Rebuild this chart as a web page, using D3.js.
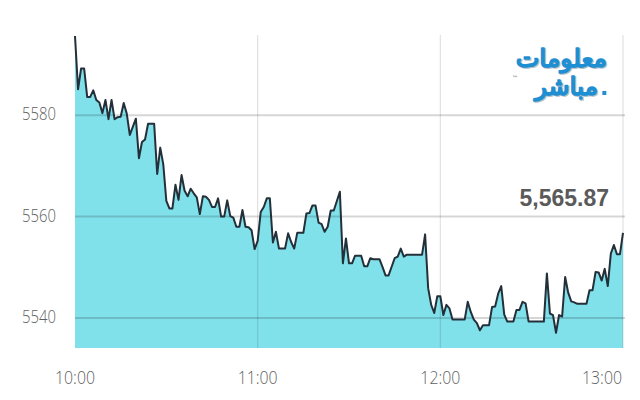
<!DOCTYPE html>
<html>
<head>
<meta charset="utf-8">
<script src="https://cdn.jsdelivr.net/npm/d3@7"></script>
<style>
html,body{margin:0;padding:0;background:#fff;}
svg{display:block;}
</style>
</head>
<body>
<svg id="chart" width="640" height="400"></svg>
<script>
// minutes after 10:00
const minutes = [0,1,2,3,4,5,6,7,8,9,10,11,12,13,14,15,16,17,18,20,21,22,23,24,25,26,27,28,29,30,
31,32,33,34,35,36,37,38,39,40,41,42,43,44,45,46,47,48,49,50,51,52,53,54,55,56,57,58,59,60,
61,62,63,64,65,66,67,68,69,70,71,72,73,74,75,76,77,78,79,80,81,82,83,84,85,87,88,89,90,
91,92,93,94,95,96,97,98,99,100,101,102,103,105,106,107,108,109,110,111,112,113,114,115,116,117,118,119,120,
121,122,123,124,125,126,127,128,129,130,131,132,133,134,135,136,137,138,139,140,141,142,143,144,145,146,147,148,149,150,
151,152,153,154,155,156,157,158,159,160,161,162,163,164,165,166,167,168,169,170,171,172,173,174,175,176,177,178,179,180];
const values = [5595.6,5585.1,5589.2,5589.2,5583.6,5583.6,5584.9,5583.0,5582.5,5580.4,5583.0,5579.2,5583.0,5579.2,5579.6,5579.7,5582.4,5580.3,5576.1,5579.3,5571.5,5574.7,5575.2,5578.3,5578.3,5578.3,5568.4,5573.6,5570.3,5563.1,
5561.6,5561.6,5566.3,5563.3,5568.2,5565.1,5564.0,5565.5,5564.6,5563.8,5560.5,5564.0,5563.9,5563.3,5561.9,5561.9,5563.6,5560.0,5560.0,5563.2,5560.1,5559.8,5558.0,5558.0,5561.3,5558.0,5557.9,5557.3,5553.6,5555.2,
5560.9,5561.9,5563.6,5563.6,5554.9,5557.0,5553.7,5553.7,5553.7,5556.7,5555.0,5553.7,5556.8,5556.8,5556.8,5560.6,5560.7,5562.2,5562.2,5558.8,5558.5,5557.0,5558.0,5561.2,5561.2,5564.9,5550.8,5555.7,5550.8,
5550.8,5552.3,5552.3,5552.3,5550.2,5550.2,5551.8,5551.6,5551.6,5551.6,5550.1,5548.4,5548.4,5551.8,5552.1,5553.7,5552.1,5552.5,5552.5,5552.5,5552.5,5552.5,5552.5,5556.5,5545.9,5542.6,5541.0,5544.3,5544.3,
5540.6,5542.6,5541.9,5539.7,5539.7,5539.7,5539.7,5539.7,5543.2,5541.2,5539.7,5539.0,5537.6,5538.6,5538.6,5538.6,5542.2,5542.3,5544.8,5546.3,5540.7,5539.3,5539.3,5539.3,5541.6,5541.6,5543.2,5542.9,5539.3,5539.3,
5539.3,5539.3,5539.3,5539.3,5548.8,5540.9,5540.6,5537.1,5540.6,5540.3,5548.1,5545.0,5543.3,5543.1,5542.8,5542.8,5542.8,5542.8,5545.5,5545.5,5549.1,5549.0,5547.4,5549.7,5546.3,5552.7,5554.4,5552.6,5552.6,5556.8];
const xTickMinutes = [0, 60, 120, 180];
const xTickLabels = ["10:00", "11:00", "12:00", "13:00"];
const yTicks = [5540, 5560, 5580];
const lastValueLabel = "5,565.87";
const logoLine1 = "معلومات";
const logoLine2 = "مباشر";

const data = minutes.map((m, i) => ({m, v: values[i]})).filter(d => d.v !== undefined);
const svg = d3.select("#chart");
const pLeft = 75, pRight = 623, pTop = 35, pBottom = 348;

const x = d3.scaleLinear().domain([0, 180]).range([pLeft, pRight]);
const y = d3.scaleLinear().domain([5534.1, 5595.8]).range([pBottom, pTop]);

const area = d3.area().x(d => x(d.m)).y0(pBottom).y1(d => y(d.v));
const line = d3.line().x(d => x(d.m)).y(d => y(d.v));

svg.append("path").datum(data).attr("d", area).attr("fill", "#80e1ea");

// grid on top
const grid = svg.append("g");
grid.selectAll("line.h").data(yTicks).join("line")
  .attr("x1", pLeft).attr("x2", pRight + 2)
  .attr("y1", d => y(d)).attr("y2", d => y(d))
  .attr("stroke", "rgba(0,0,0,0.16)").attr("stroke-width", 2);
grid.selectAll("line.v").data(xTickMinutes.slice(1)).join("line")
  .attr("x1", d => x(d)).attr("x2", d => x(d))
  .attr("y1", pTop).attr("y2", pBottom)
  .attr("stroke", "rgba(0,0,0,0.12)").attr("stroke-width", 1.2);

svg.append("path").datum(data).attr("d", line)
  .attr("fill", "none").attr("stroke", "#23303a").attr("stroke-width", 2)
  .attr("stroke-linejoin", "round");

const lblFont = "'Open Sans','Liberation Sans',sans-serif";
function squeeze(sel, target) {
  sel.each(function () {
    const w = this.getComputedTextLength();
    if (w > target) d3.select(this).attr("textLength", target).attr("lengthAdjust", "spacingAndGlyphs");
  });
}
svg.append("g").selectAll("text").data(yTicks).join("text")
  .attr("x", 56).attr("y", d => y(d) + 5)
  .attr("text-anchor", "end")
  .attr("font-family", lblFont).attr("font-weight", 300).attr("font-size", 18).attr("fill", "#5f5f5f")
  .text(d => d3.format("d")(d))
  .call(squeeze, 34);

svg.append("g").selectAll("text").data(xTickMinutes).join("text")
  .attr("x", (d, i) => i === xTickMinutes.length - 1 ? x(d) - 1 : x(d))
  .attr("y", 384)
  .attr("text-anchor", (d, i) => i === xTickMinutes.length - 1 ? "end" : "middle")
  .attr("font-family", lblFont).attr("font-weight", 300).attr("font-size", 18).attr("fill", "#5f5f5f")
  .text((d, i) => xTickLabels[i])
  .call(squeeze, 40);

// last value label
svg.append("text").attr("x", 609).attr("y", 206).attr("text-anchor", "end")
  .attr("font-family", "'Liberation Sans',Arial,sans-serif").attr("font-weight", "bold")
  .attr("font-size", 23).attr("fill", "#5a5a5a").text(lastValueLabel);

// logo
const logo = svg.append("g");
const logoFont = "'DejaVu Sans',sans-serif";
[[logoLine1, 607, 67], [logoLine2, 598, 95]].forEach(([t, lx, ly]) => {
  logo.append("text").attr("x", lx + 1.2).attr("y", ly + 1.2).attr("text-anchor", "end")
    .attr("font-family", logoFont).attr("font-size", 25)
    .attr("fill", "#7c8c98").attr("stroke", "#7c8c98").attr("stroke-width", 1.6)
    .attr("opacity", 0.55).text(t);
  logo.append("text").attr("x", lx).attr("y", ly).attr("text-anchor", "end")
    .attr("font-family", logoFont).attr("font-size", 25)
    .attr("fill", "#1e8fd2").attr("stroke", "#1e8fd2").attr("stroke-width", 1.6)
    .attr("stroke-linejoin", "round").text(t);
});
logo.append("text").attr("x", 600).attr("y", 95).attr("font-family", logoFont)
  .attr("font-weight", "bold").attr("font-size", 22).attr("fill", "#1e8fd2").text(".");
logo.append("text").attr("x", 512).attr("y", 80).attr("font-family", logoFont)
  .attr("font-size", 6).attr("fill", "#555").text("™");
</script>
</body>
</html>
